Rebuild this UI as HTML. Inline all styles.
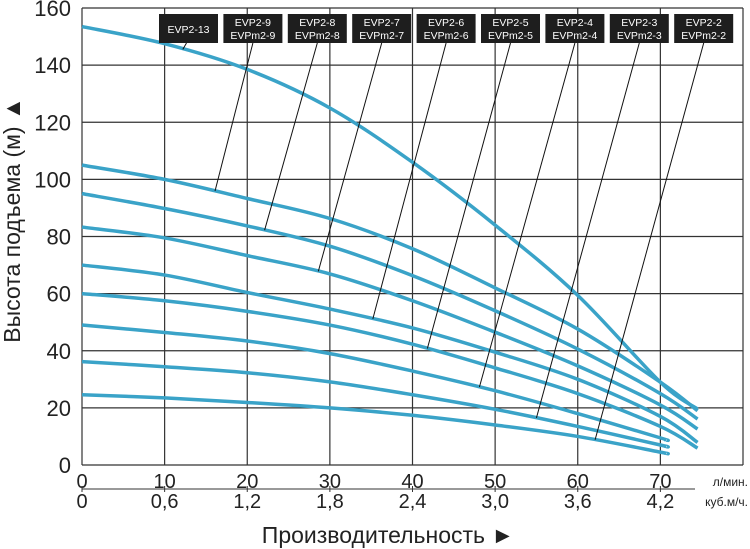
<!DOCTYPE html>
<html><head><meta charset="utf-8"><style>
body{margin:0;background:#fff;width:750px;height:549px;overflow:hidden}
svg{display:block;font-family:"Liberation Sans",sans-serif}
</style></head><body>
<svg id="chart" width="750" height="549"></svg>
<script>
const flowTicks=[0,10,20,30,40,50,60,70];
const flowTickLabels=["0","10","20","30","40","50","60","70"];
const m3TickLabels=["0","0,6","1,2","1,8","2,4","3,0","3,6","4,2"];
const headTicks=[0,20,40,60,80,100,120,140,160];
const models=["EVP2-13","EVP2-9","EVP2-8","EVP2-7","EVP2-6","EVP2-5","EVP2-4","EVP2-3","EVP2-2"];
const models2=["","EVPm2-9","EVPm2-8","EVPm2-7","EVPm2-6","EVPm2-5","EVPm2-4","EVPm2-3","EVPm2-2"];
const qLong=[0,10,20,30,40,50,60,70,74.5];
const qShort=[0,10,20,30,40,50,60,70,70.6];
const h13=[153.5,147.5,138.5,125,106,84,59.4,29,19.6];
const h9=[105,100,93.3,86.3,75.7,62,47.6,29,19];
const h8=[95,89.8,83.7,76.6,66.3,54,40.6,25,16.1];
const h7=[83.3,79.5,73.3,66.9,57.5,46.5,34.7,21,12.6];
const h6=[70,66.5,60.4,54.6,48,39.5,30,17,7.9];
const h5=[60,57.5,53.8,49,42.3,34,25,13.5,5.9];
const h4=[49,46.4,43.4,39,32.9,26,18,9.5,8.8];
const h3=[36.2,34.4,32.3,29.1,24.6,19.5,13.5,7,6.5];
const h2=[24.6,23.5,21.9,20,17.4,14,10,4.5,4.1];
const seriesH=[h13,h9,h8,h7,h6,h5,h4,h3,h2];
const seriesQ=[qLong,qLong,qLong,qLong,qLong,qLong,qShort,qShort,qShort];
const leaderQ=[12.2,16.1,22.1,28.6,35.2,41.8,48.1,55.0,62.1];

const X0=82,X1=743,Y0=465,Y1=8;
const xs=q=>X0+q*(X1-X0)/80;
const ys=h=>Y0-h*(Y0-Y1)/160;
const svg=document.getElementById('chart');
const NS='http://www.w3.org/2000/svg';
function mk(tag,attrs,parent){const e=document.createElementNS(NS,tag);for(const k in attrs)e.setAttribute(k,attrs[k]);(parent||svg).appendChild(e);return e;}

const grid=mk('g',{});


headTicks.forEach(h=>{const l=mk('line',{x1:X0,x2:X1,y1:ys(h),y2:ys(h),stroke:'#333','stroke-width':1.2},grid);

});
flowTicks.concat([80]).forEach(q=>{const l=mk('line',{x1:xs(q),x2:xs(q),y1:Y1,y2:Y0,stroke:'#333','stroke-width':1.2},grid);

});

headTicks.forEach(h=>{const t=mk('text',{x:71,y:ys(h)+8,'text-anchor':'end','font-size':22,fill:'#222'});t.textContent=h;

});
mk('line',{x1:X0,x2:695,y1:489,y2:489,stroke:'#333','stroke-width':1});
flowTicks.forEach((q,i)=>{
 const t=mk('text',{x:xs(q),y:488,'text-anchor':'middle','font-size':20,fill:'#222'});t.textContent=flowTickLabels[i];
 
 
 const t2=mk('text',{x:xs(q),y:508,'text-anchor':'middle','font-size':20,fill:'#222'});t2.textContent=m3TickLabels[i];
 
 
 mk('line',{x1:xs(q),x2:xs(q),y1:486,y2:492,stroke:'#333','stroke-width':1});
});
const u1=mk('text',{x:748,y:486,'text-anchor':'end','font-size':12,fill:'#222'});u1.textContent='л/мин.';


const u2=mk('text',{x:748,y:506,'text-anchor':'end','font-size':12,fill:'#222'});u2.textContent='куб.м/ч.';


const xt=mk('text',{x:388,y:543,'text-anchor':'middle','font-size':23,fill:'#222'});xt.textContent='Производительность ►';


const yt=mk('text',{x:0,y:0,'text-anchor':'middle','font-size':23,fill:'#222',transform:'translate(20,220) rotate(-90)'});yt.textContent='Высота подъема (м) ▲';



function pathFor(Q,H){const p=Q.map((q,i)=>[xs(q),ys(H[i])]);let d='M'+p[0][0]+','+p[0][1];
 for(let i=0;i<p.length-1;i++){const a=p[Math.max(0,i-1)],b=p[i],c=p[i+1],e=p[Math.min(p.length-1,i+2)];
  const c1=[b[0]+(c[0]-a[0])/6,b[1]+(c[1]-a[1])/6],c2=[c[0]-(e[0]-b[0])/6,c[1]-(e[1]-b[1])/6];
  d+=' C'+c1[0]+','+c1[1]+' '+c2[0]+','+c2[1]+' '+c[0]+','+c[1];}return d;}
function interp(Q,H,q){for(let i=0;i<Q.length-1;i++){if(q<=Q[i+1]){const t=(q-Q[i])/(Q[i+1]-Q[i]);return H[i]+t*(H[i+1]-H[i]);}}return H[H.length-1];}
seriesH.forEach((H,i)=>{const p=mk('path',{d:pathFor(seriesQ[i],H),fill:'none',stroke:'#3aa3c8','stroke-width':3.5});
 
 });

models.forEach((m,i)=>{
 const bx=159+i*64.4, bw=59, cx=bx+bw/2;
 const q=leaderQ[i],h=interp(seriesQ[i],seriesH[i],q);
 const ld=mk('line',{x1:i==0?cx-2:cx,y1:43,x2:xs(q),y2:ys(h),stroke:'#111','stroke-width':1});
 
 
 const g=mk('g',{});
 
 
 mk('rect',{x:bx,y:14,width:bw,height:29,fill:'#1e1e1e'},g);
 if(models2[i]){
  const a=mk('text',{x:cx,y:26,'text-anchor':'middle','font-size':10.5,fill:'#fff'},g);a.textContent=m;
  const b=mk('text',{x:cx,y:39,'text-anchor':'middle','font-size':10.5,fill:'#fff'},g);b.textContent=models2[i];
 }else{const a=mk('text',{x:cx,y:33,'text-anchor':'middle','font-size':10.5,fill:'#fff'},g);a.textContent=m;}
});
</script>
</body></html>
